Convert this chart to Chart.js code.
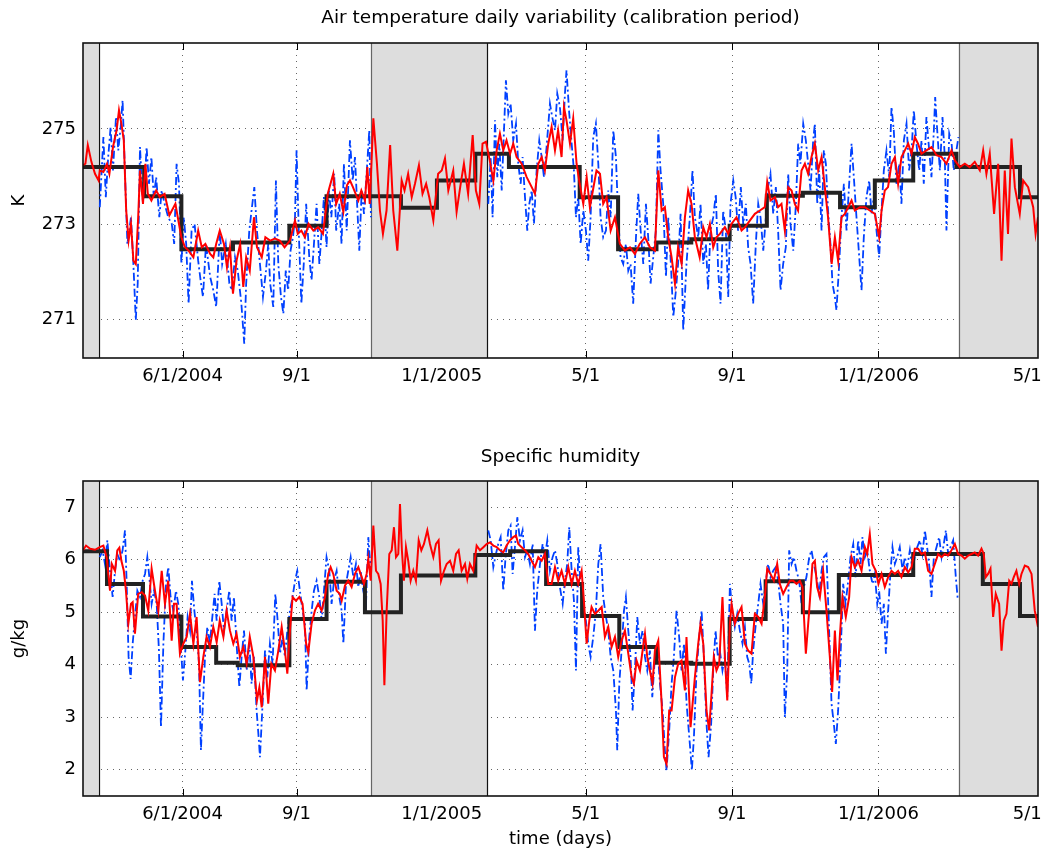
<!DOCTYPE html>
<html>
<head>
<meta charset="utf-8">
<title>Air temperature and specific humidity</title>
<script src="https://cdn.jsdelivr.net/npm/chart.js@4.4.1/dist/chart.umd.min.js"></script>
<style>
    html, body { margin: 0; padding: 0; background: #fff; }
    #wrap { position: relative; width: 1041px; height: 852px; }
    canvas { position: absolute; left: 0; }
    #tempChart { top: 0; }
    #humChart { top: 400px; }
</style>
</head>
<body>
<div id="wrap">
    <canvas id="tempChart" width="1041" height="400"></canvas>
    <canvas id="humChart" width="1041" height="452"></canvas>
</div>
<script>
// X axis (day index) and its labels
const dayMax = 796;
const tickDays = [83, 178, 299, 419, 541, 663, 787];
const tickLabels = ['6/1/2004', '9/1', '1/1/2005', '5/1', '9/1', '1/1/2006', '5/1'];

// Grey periods outside the calibration window (days)
const greyPeriods = [[0, 13], [240, 337], [730, 796]];

// Air temperature (K)
const tempTicks = [271, 273, 275];
const tempMeanStart = [0, 51, 82, 125, 172, 203, 265, 295, 327, 355, 414, 446, 478, 507, 539, 570, 600, 631, 660, 692, 728, 781];
const tempMeanVal = [274.2, 273.59, 272.48, 272.62, 272.97, 273.59, 273.35, 273.92, 274.48, 274.2, 273.57, 272.48, 272.62, 272.69, 272.97, 273.6, 273.66, 273.36, 273.92, 274.48, 274.2, 273.57];

const tempRed = [
    [0,274.24],[2,274.27],[4,274.66],[7,274.31],[10,274.06],[13,273.92],[14,274.13],[17,274.10],[20,274.27],[22,274.06],
    [25,274.62],[28,274.97],[30,275.39],[32,275.11],[34,274.76],[36,273.29],[38,272.66],[40,273.01],[42,272.24],[44,272.17],
    [46,273.15],[47.5,274.13],[50,273.43],[52,274.27],[54,273.64],[57,273.50],[61,273.71],[64,273.57],[68,273.64],[72,273.19],
    [77,273.43],[79,273.15],[82,272.73],[85,272.52],[88,272.45],[92,272.31],[96,272.87],[99,272.52],[102,272.59],[106,272.38],
    [108.6,272.31],[111,272.59],[114,272.87],[117.5,272.59],[120,272.10],[122.5,272.52],[125,271.55],[128,272.24],[131,272.59],[133.6,271.69],
    [136,272.31],[139,272.03],[142.5,273.15],[145,272.52],[149,272.31],[152,272.73],[156,272.66],[160,272.70],[164,272.66],[168,272.52],
    [172.5,272.66],[176.7,273.08],[179,272.80],[182,272.87],[185,272.73],[188,273.01],[192,272.87],[196,272.94],[200,272.80],[204,273.64],
    [208.6,274.06],[211,273.43],[214,273.64],[217,273.26],[220,273.82],[222.5,273.92],[225,273.78],[229.5,273.50],[232,273.71],[235,273.50],
    [237,274.20],[239,273.43],[242,275.22],[245,274.27],[247.5,273.29],[250,272.80],[253,273.29],[256,274.66],[258.6,273.29],[262,272.45],
    [265.6,273.92],[268,273.71],[271,274.06],[274,273.57],[276.7,273.85],[280,274.24],[283,273.64],[286,273.85],[288.6,273.57],[292,273.08],
    [296,274.06],[299,274.13],[301.7,274.38],[304.5,273.71],[308.6,274.13],[311.4,273.26],[314.8,273.85],[317.5,274.27],[321,273.64],[324.8,274.87],
    [327.5,273.71],[330.3,273.43],[333,274.69],[335.9,274.73],[339,274.34],[342,273.92],[344.8,274.55],[347.5,274.90],[350.3,274.55],[353,274.76],
    [356,274.48],[358.6,274.69],[361.4,274.41],[365.6,274.27],[369.8,273.99],[374,273.78],[376.7,273.64],[379.5,274.27],[382.3,274.41],[385,274.13],
    [387.8,274.69],[390.6,275.04],[393.4,274.55],[396,274.97],[398.9,274.41],[400.9,275.46],[403,275.18],[405.9,274.69],[408.6,275.22],[411.4,274.27],
    [414,273.85],[417,273.43],[419.8,273.99],[422.5,273.36],[425,273.71],[428,274.13],[430.9,274.06],[433.6,273.43],[436.4,273.57],[439.8,272.87],
    [443.4,273.15],[447.5,272.59],[451.7,272.45],[455.9,272.52],[460,272.38],[464,272.59],[468.4,272.73],[472.5,272.52],[476.7,272.45],[479.5,274.13],
    [482.3,273.29],[485,273.36],[487.8,272.73],[490.6,272.31],[493.4,271.76],[496,272.52],[499,272.17],[501.7,273.15],[504.4,273.71],[507.2,273.43],
    [510,272.73],[514,272.31],[517,272.94],[519.7,272.73],[522.5,273.01],[525.3,272.52],[528,272.73],[530.8,272.80],[535,272.94],[537.8,272.80],
    [540.5,273.01],[544.7,273.15],[548.9,272.87],[551.7,272.94],[555.8,273.08],[560,273.22],[564.2,273.29],[568.3,273.36],[570.3,273.89],[573,273.50],
    [576.7,273.57],[579.4,273.36],[582.2,273.43],[585,272.87],[587.8,273.78],[590.6,273.71],[593.3,273.43],[596,273.29],[598.9,274.13],[601.7,274.27],
    [604.4,274.06],[607.2,274.41],[610,274.69],[612.8,274.13],[615.6,274.41],[618.3,273.78],[621,273.15],[624,272.17],[626.7,272.73],[629.4,272.24],
    [632.2,273.15],[635,273.22],[637.8,273.36],[640.6,273.50],[643.3,273.29],[647.5,273.36],[651.7,273.36],[655.8,273.29],[660,273.22],[663.6,272.73],
    [665.6,273.29],[668.3,273.71],[671,273.78],[673.9,274.27],[676.7,274.41],[679.4,273.85],[682.2,274.41],[685,274.55],[687.8,274.69],[690.6,274.48],
    [693.3,274.83],[696,274.69],[698.9,274.48],[703,274.55],[707.2,274.62],[711.4,274.45],[715.6,274.41],[719.7,274.27],[723.9,274.55],[726.7,274.34],
    [730.8,274.20],[735,274.27],[739,274.20],[743.3,274.31],[747.5,274.13],[750.3,274.55],[753,274.06],[755.8,274.48],[759.4,273.22],[762.8,274.27],
    [765.6,272.24],[768.3,274.13],[771,272.80],[773.9,274.80],[776.7,273.78],[780.8,273.22],[783.6,273.92],[787.8,273.78],[792,273.36],[794,272.80],
    [796,273.15]
];

const tempBlue = [
    [14,273.36],[17,274.83],[19,273.57],[21,274.41],[23,275.04],[25,274.13],[27.5,275.25],[29.4,274.55],[31.4,275.04],[33,275.60],
    [35,274.06],[37,272.59],[40,273.15],[42,272.17],[44,270.99],[45.6,271.76],[47.5,274.62],[50,273.43],[52,274.13],[53,274.62],
    [55,273.85],[57,274.41],[59,273.57],[61,273.99],[63.6,273.15],[65.6,273.71],[68,273.43],[71,273.15],[74,273.01],[76,272.59],
    [78,274.27],[80,273.85],[82,272.17],[84,273.15],[86,272.59],[88,271.34],[90.5,272.87],[93,273.01],[96,272.24],[98,271.83],
    [100,271.48],[102.5,272.59],[106,271.90],[108.6,271.62],[111,271.27],[114,272.87],[116,272.17],[119,272.59],[122,271.76],[124,271.62],
    [126.7,272.31],[129,272.03],[132,271.34],[134.4,270.50],[136,271.76],[138.6,272.87],[140.5,273.29],[142.8,273.78],[145,272.87],[147.5,272.17],
    [150,271.48],[152.5,272.03],[154.4,272.59],[156,271.76],[158.6,271.27],[160.8,273.92],[162.8,272.17],[165,271.48],[167,271.13],[169,272.03],
    [171,271.62],[173,272.45],[175,272.73],[176.7,273.15],[178,274.55],[180,272.73],[182,271.34],[184,272.17],[186,273.43],[188.6,272.31],
    [190.5,271.83],[192.5,272.59],[194.7,273.43],[197,272.17],[199,272.87],[200.8,273.57],[203,272.52],[205,273.71],[207,273.15],[209.4,274.06],
    [211,272.87],[213.6,273.43],[215.5,272.59],[217.5,274.27],[219.8,272.87],[222.5,274.76],[224.8,273.92],[226.7,274.41],[228.6,273.36],[230.3,272.45],
    [232.3,273.71],[234.2,273.22],[236.4,274.06],[238.6,274.97],[240,273.15],
    [289,null],
    [337.8,273.43],[339.8,274.41],[341.4,273.15],[343.4,275.18],[345.3,273.99],[347,274.69],[349,273.71],[350.9,274.97],[352.5,276.02],[354.5,275.32],
    [356.4,275.53],[358.6,274.76],[360.9,275.11],[362.8,274.27],[364.8,273.85],[366.4,274.41],[368.4,273.57],[370.3,272.87],[372,273.43],[374,273.71],
    [375.9,273.01],[378.1,274.13],[380.3,274.76],[382.3,274.41],[384.2,273.99],[386.4,274.62],[389.2,275.53],[391.1,275.25],[393.4,274.97],[395.3,275.74],
    [397.5,275.46],[399.8,274.76],[401.7,275.74],[403,276.23],[405.3,275.32],[407.3,274.69],[409.2,274.13],[410.9,273.15],[412.8,273.57],[414.8,272.59],
    [417,273.29],[419.2,272.87],[421.1,272.24],[423.1,273.15],[425.3,274.83],[427.5,275.11],[429.5,274.27],[431.4,273.15],[433.6,272.73],[435.9,272.87],
    [437.8,273.71],[439.8,273.15],[442,274.97],[444.2,274.41],[446.1,273.15],[448.1,272.31],[450.3,272.17],[452.5,272.59],[454.5,272.03],[456.4,272.17],
    [458.6,271.34],[460.9,272.73],[462.8,273.64],[464.8,272.87],[467,272.17],[469.2,273.43],[471.1,272.73],[473.1,271.76],[475.3,272.31],[477.5,272.87],
    [479.5,274.97],[481.4,274.13],[483.6,273.43],[485.9,271.90],[487.8,273.15],[490,272.17],[492,271.06],[494.2,271.62],[496,272.17],[498.1,273.22],
    [500.3,270.78],[503,272.17],[505.8,273.15],[508,274.13],[510,273.15],[512.8,272.73],[514.7,273.43],[517,272.17],[519.2,272.59],[521,271.62],
    [523,272.87],[525.3,273.15],[527.5,273.64],[529.4,272.03],[531.4,271.34],[533.6,273.29],[535.8,272.87],[537.8,271.48],[539.7,273.43],[542,273.92],
    [544,273.57],[546,272.87],[548.3,273.78],[550.3,273.01],[552.5,273.43],[554.4,272.52],[556.4,272.17],[558.6,271.34],[560.8,272.59],[562.8,273.43],
    [564.7,273.15],[567,272.45],[569.2,273.15],[571,273.78],[573,274.06],[575.3,273.22],[577.5,273.78],[579.4,272.87],[581.4,271.62],[583.6,272.17],
    [585.8,272.52],[587.8,274.06],[589.7,273.01],[592,272.45],[594.2,273.43],[596.1,274.69],[598,274.27],[600.3,275.11],[602.5,274.76],[604.4,274.27],
    [606.4,273.71],[608.6,274.76],[610,275.11],[612,273.43],[613.6,274.13],[615.6,272.87],[617.5,274.55],[619.2,274.27],[621,273.29],[623,272.59],
    [624.7,271.76],[626.7,271.48],[628,271.20],[630.3,272.17],[632.2,273.15],[634.2,273.85],[636.4,272.87],[638.6,273.85],[640.6,274.69],[642.5,273.99],
    [644.7,273.15],[647,272.31],[648.9,271.62],[650.8,272.73],[653,273.57],[655.3,273.92],[657.2,273.22],[659.2,273.57],[661.4,272.87],[663.6,272.31],
    [665.6,273.29],[667.5,274.13],[669.7,274.55],[672,273.99],[673.9,275.46],[675.8,274.97],[678,273.85],[680.3,274.27],[682.2,273.43],[684.2,274.76],
    [686.4,275.11],[688.6,274.13],[690.6,274.55],[692.5,275.39],[694.7,274.69],[697,274.13],[698.9,274.76],[700.8,273.85],[703,275.25],[705.3,274.55],
    [707.2,273.99],[709.2,274.97],[710.3,275.67],[712,274.97],[714.2,274.13],[716.4,275.25],[718.3,274.41],[719.7,272.87],[722,274.90],[724,274.69],
    [725.8,274.13],[728,274.55],[729.7,274.83]
];

// Specific humidity (g/kg)
const humTicks = [2, 3, 4, 5, 6, 7];
const humMeanStart = [0, 20, 50, 82, 111, 129, 172, 203, 235, 265, 327, 356, 386, 416, 447, 478, 507, 539, 569, 600, 630, 692, 750, 781];
const humMeanVal = [6.16, 5.54, 4.92, 4.34, 4.04, 3.99, 4.87, 5.58, 5.0, 5.70, 6.09, 6.16, 5.54, 4.93, 4.34, 4.04, 4.02, 4.87, 5.59, 5.0, 5.71, 6.11, 5.54, 4.93];

const humRed = [
    [0,6.18],[2.5,6.27],[6,6.21],[10,6.19],[14,6.24],[17,6.27],[19.7,6.05],[22.5,5.41],[24,5.92],[26.7,5.79],
    [28.6,6.18],[30.3,6.23],[32,5.98],[34,5.79],[35.8,5.41],[37.8,4.78],[40,5.16],[41.4,5.19],[43.3,4.59],[46,5.35],
    [49,5.38],[51.7,5.32],[54.4,5.03],[57.2,5.83],[60,5.41],[62.8,5.03],[65.6,5.79],[68.3,5.16],[71,5.60],[73.9,4.46],
    [75.8,5.16],[78,5.16],[80.8,4.21],[83.6,4.40],[86.4,4.53],[89.2,4.97],[92,4.40],[94.7,4.91],[97.5,3.67],[100.3,4.15],
    [103,4.53],[105.8,4.34],[108.6,4.72],[111.4,4.43],[114,4.84],[117,4.53],[119.7,5.03],[122.5,4.65],[125.3,4.40],[128,4.59],
    [130.8,4.15],[133.6,4.34],[136.4,4.02],[139,4.53],[142,4.15],[145,3.32],[147,3.57],[149,3.19],[151.7,4.15],[154.4,3.26],
    [157,4.02],[160,3.89],[162.8,4.27],[165.6,4.72],[168.3,4.27],[170.3,3.83],[172.5,4.65],[174.7,5.29],[177.5,5.22],[180.3,5.29],
    [183,5.16],[186,4.40],[187.8,4.24],[190.5,4.78],[193.3,5.03],[196,5.16],[198.9,5.03],[201.7,5.29],[204.4,5.73],[206.4,5.86],
    [208.6,5.73],[211.4,5.41],[214,5.35],[215.6,5.22],[218.4,5.51],[221.1,5.60],[223.9,5.48],[226.7,5.73],[229.5,5.86],[232.3,5.67],
    [234.2,5.54],[236.4,5.73],[237.8,6.02],[239.8,5.60],[242,6.65],[244.2,5.79],[246.1,5.73],[248.1,5.54],[249.8,4.84],[251.2,3.61],
    [253.1,5.03],[255.3,6.11],[257.3,6.18],[259.2,6.62],[260.9,6.05],[262.8,6.11],[264.2,7.06],[265.8,6.18],[267.5,5.60],[269.2,6.24],
    [271.1,5.98],[273.1,5.60],[275.3,5.79],[277.5,5.60],[279.8,6.37],[282,6.18],[284.2,6.30],[287,6.56],[289.2,6.30],[292,6.05],
    [294.2,6.30],[296.4,6.37],[298.4,5.60],[300.9,5.79],[303.1,5.92],[305.9,5.98],[308.6,5.79],[310.9,6.11],[313.1,6.18],[315.6,5.79],
    [318.4,5.92],[320.3,5.64],[322.5,5.92],[325.3,5.79],[328.1,6.27],[330.9,6.18],[333.7,6.24],[336.4,6.30],[339.2,6.33],[342,6.27],
    [344.8,6.24],[347.5,6.18],[350.3,6.14],[353.1,6.27],[355.9,6.37],[358.6,6.43],[360.9,6.46],[362.8,6.30],[365.6,6.24],[368.4,6.18],
    [371.1,6.11],[373.9,5.98],[376.7,5.86],[379.5,6.05],[382.3,5.98],[385,6.11],[387.8,5.54],[390.6,5.54],[393.4,5.86],[396.1,5.60],
    [398.9,5.79],[401.7,5.54],[404.5,5.86],[407.3,5.54],[410,5.79],[412.8,5.54],[415.6,5.79],[417.5,5.22],[419.8,4.40],[422,4.84],
    [423.9,5.10],[426.7,4.97],[429.5,5.03],[432.3,5.10],[435,4.53],[437.8,4.72],[440.6,4.34],[443.4,4.53],[446.1,4.15],[448.9,4.46],
    [451.7,4.65],[454.5,4.21],[457.3,3.76],[459.2,3.64],[461.4,4.08],[464.2,3.89],[466.4,4.27],[468.4,4.59],[470.3,4.15],[472.5,3.89],
    [474.7,3.64],[476.7,4.27],[479.5,4.46],[482.3,3.26],[484.2,2.24],[486.4,2.11],[488.6,3.13],[490.6,3.13],[493.4,3.76],[496.1,4.02],
    [498.9,4.08],[501.7,3.51],[503,4.53],[506.4,2.81],[510,3.76],[512.8,4.40],[514.7,4.78],[517,4.40],[519.7,3.13],[521.9,2.75],
    [523.9,3.45],[525.8,4.15],[528,3.89],[530.3,4.02],[533,5.29],[535,4.15],[537,3.32],[539.2,4.78],[540.6,5.16],[543.3,4.78],
    [546,4.97],[548.9,5.10],[551.7,4.40],[554.4,4.27],[557.2,4.21],[560,4.97],[562.8,4.91],[565.6,4.78],[568.3,5.29],[570.3,5.83],
    [573,5.73],[575.8,5.60],[578.6,5.92],[580.8,5.54],[583.6,5.35],[586.4,5.48],[589.2,5.60],[592,5.60],[594.7,5.54],[597.5,5.60],
    [599.7,5.48],[602.5,4.21],[605.3,5.03],[608,5.92],[610,5.98],[611.9,5.48],[614.2,5.29],[616.9,5.79],[619.7,5.03],[622.5,4.15],
    [624.4,3.48],[626.7,4.65],[628.9,3.70],[630.8,4.53],[633,5.29],[635.8,4.91],[638.6,5.29],[640.6,6.05],[643.3,5.86],[646.1,5.98],
    [648.9,5.79],[651.7,6.24],[653.6,6.11],[655.8,6.49],[658,5.92],[660.8,5.79],[663,5.54],[665.6,5.73],[668.3,5.48],[671.1,5.67],
    [673.9,5.79],[676.7,5.73],[679.4,5.79],[682.2,5.67],[685,5.86],[687.8,5.76],[690.6,5.86],[693.3,6.21],[696.1,6.21],[698.9,6.11],
    [701.7,6.14],[704.4,5.79],[707.2,5.73],[710,5.92],[712.8,6.11],[715.6,6.05],[718.3,6.11],[721.1,6.08],[723.9,6.18],[726.7,6.30],
    [729.4,6.11],[732.2,6.08],[735,6.02],[737.8,6.08],[740.6,6.11],[743.3,6.14],[746.1,6.08],[748.9,6.21],[750.8,6.11],[752.5,5.67],
    [754.4,5.73],[756.4,5.83],[758.6,4.91],[760.8,5.35],[763.6,5.16],[765.6,4.27],[767.5,4.84],[769.7,4.97],[772,5.60],[773.9,5.54],
    [775.8,5.67],[778,5.79],[780.3,5.54],[782.2,5.73],[785,5.89],[787.8,5.86],[790.6,5.73],[793.3,5.03],[796,4.72]
];

const humBlue = [
    [14,6.05],[16.4,6.18],[18.3,5.92],[20.3,6.37],[22.5,5.79],[24.7,5.29],[26.7,5.79],[28.6,6.11],[30.8,5.98],[33,6.18],
    [35,6.56],[36.4,5.54],[38,4.15],[39.7,3.73],[41.4,4.40],[43.3,4.91],[45.3,5.41],[47.5,5.29],[49.7,5.60],[51.7,5.73],
    [53.6,6.05],[55.3,5.67],[57.2,5.16],[59.2,5.41],[61.4,5.16],[63.3,4.27],[65,2.81],[67,4.40],[69.2,5.54],[71.1,5.86],
    [73,5.29],[75.3,5.03],[77.5,5.41],[79.4,5.16],[81.4,4.40],[83.3,3.70],[85.3,4.27],[87.2,4.91],[89.2,4.65],[90.8,5.60],
    [92.8,5.03],[94.7,4.65],[96.7,4.02],[98.3,2.37],[99.7,3.13],[101.7,4.15],[103.6,4.72],[105.8,4.40],[107.8,4.91],[109.7,5.35],
    [111.4,4.84],[113.6,5.60],[115.6,5.16],[117.5,4.65],[119.7,5.03],[121.9,5.41],[123.9,4.84],[125.8,5.29],[128,4.40],[130.3,3.57],
    [132.2,4.15],[134.2,4.65],[136.4,3.89],[138.6,4.40],[140.5,3.64],[142.5,4.15],[144.7,3.13],[146.4,2.62],[147.5,2.24],[149.7,3.26],
    [151.7,4.27],[153.6,3.76],[155.8,4.40],[158,4.02],[160.3,5.35],[162,4.91],[164.2,4.21],[166.4,4.53],[168.3,4.15],[170.3,4.65],
    [172.5,5.03],[174.7,5.29],[176.7,5.60],[178.6,5.79],[180.8,5.41],[183,5.03],[185,4.78],[186.4,3.51],[188.6,4.53],[190.6,5.03],
    [192.5,5.41],[194.7,5.60],[197,5.29],[199,4.84],[200.8,5.41],[203,6.05],[205.3,5.79],[207.2,5.16],[209.2,5.60],[211.4,5.79],
    [213.6,5.29],[215.6,5.03],[217,4.40],[219.2,5.54],[221.1,5.79],[223.1,6.05],[225.3,5.67],[227.5,5.92],[229.5,5.48],[231.4,5.79],
    [233.6,5.41],[235.9,5.16],[237.8,6.43],[239.8,5.79],
    [289,null],
    [337.8,6.56],[339.8,6.37],[342,5.86],[344.2,6.11],[346.1,6.30],[348.1,6.43],[350.3,5.41],[352.2,6.05],[354.5,6.56],[356.4,6.65],
    [358.1,5.73],[360,6.24],[362,6.81],[364.2,6.37],[366.4,6.56],[368.4,6.05],[370.3,6.18],[372.5,5.92],[374.8,6.30],[376.7,4.65],
    [378.6,5.41],[380.9,5.92],[383.1,6.30],[385,6.05],[387,6.37],[389.2,5.79],[391.4,6.05],[393.4,6.18],[395.3,5.92],[397.5,5.48],
    [399.8,5.16],[401.7,5.60],[403.6,5.92],[405.3,6.62],[407.3,5.79],[409.2,5.22],[410.9,3.89],[412.8,6.24],[414.8,5.48],[417,5.03],
    [419.2,4.84],[421.1,4.40],[423.1,4.15],[425.3,4.53],[427.5,5.03],[429.5,5.92],[431.4,6.30],[433.6,5.29],[435.9,4.91],[437.8,4.65],
    [439.8,4.15],[442,3.89],[444.2,3.13],[445.3,2.37],[447,3.64],[448.9,4.27],[450.9,5.03],[452.5,5.29],[454.5,4.65],[456.4,4.15],
    [458.1,3.13],[460,3.89],[462,4.91],[464.2,4.40],[466.4,4.65],[468.4,4.15],[470.3,3.89],[472.5,4.27],[474.5,3.38],[476.7,4.15],
    [478.6,4.40],[480.9,3.64],[483.1,3.13],[485,2.37],[486.4,1.99],[488.6,2.75],[490.6,3.64],[492.5,4.15],[494.7,5.03],[496.9,4.53],
    [498.9,3.89],[500.9,4.40],[503.1,3.26],[505.8,2.49],[507.5,1.99],[509.2,2.62],[511.4,3.89],[513.6,4.53],[515.6,5.03],[517.5,4.15],
    [519.7,2.88],[521.4,2.24],[523.6,2.88],[525.3,3.89],[527.2,4.65],[529.2,4.15],[530.8,4.27],[533,3.89],[535,4.15],[537,3.38],
    [539.2,5.54],[541.1,5.03],[543.3,4.72],[545.3,4.97],[547.5,4.65],[549.7,4.40],[551.7,4.72],[553.6,4.15],[555.3,4.02],[557,3.64],
    [558.6,4.27],[560.8,4.78],[562.8,5.16],[564.7,5.54],[567,5.16],[569.2,5.60],[571.1,5.92],[573,5.67],[575.3,5.79],[577.5,5.86],
    [579.4,5.60],[581.4,5.16],[583.6,4.78],[585,3.00],[587,3.89],[588.6,6.18],[590.6,5.92],[592.5,6.05],[594.7,5.79],[596.9,5.60],
    [598.9,5.16],[600.8,5.48],[603,5.67],[605.3,6.05],[607.2,6.18],[609.2,5.92],[611.4,5.67],[613.6,5.35],[615.6,5.79],[617.5,6.05],
    [619.7,6.11],[621.9,4.65],[623.9,3.26],[625.8,2.88],[627.5,2.49],[629.4,3.13],[631.4,4.15],[633.6,5.54],[635.6,5.16],[637.8,5.60],
    [639.7,6.05],[642,6.30],[643.9,5.67],[646.1,6.37],[648.1,5.92],[649.7,6.43],[651.7,6.05],[653.6,6.18],[655.8,5.79],[658.1,5.54],
    [660,5.73],[662,5.16],[663.6,5.41],[665.6,4.78],[667.5,5.16],[669.2,4.21],[671.1,5.03],[673.1,5.79],[674.7,6.24],[676.7,5.92],
    [678.6,6.05],[680.8,6.24],[683.1,5.79],[685,6.05],[687,5.86],[689.2,6.18],[691.4,5.79],[693.3,6.05],[695.3,6.24],[697.5,6.37],
    [699.7,6.11],[701.7,6.56],[703.6,6.24],[705.8,5.79],[707.2,5.29],[709.2,6.05],[711.4,6.24],[713.6,6.43],[715.6,6.05],[717.5,6.30],
    [719.2,6.56],[721.1,6.11],[723.1,6.24],[725.3,6.37],[727.5,5.67],[729.2,5.22]
];

// Styling
const fontFamily = "'DejaVu Sans', Verdana, sans-serif";
const fontSize = 18;
Chart.defaults.font.family = fontFamily;
Chart.defaults.font.size = fontSize;
Chart.defaults.color = '#000';

// Pairs -> {x, y}
function toPoints(pairs) {
    return pairs.map(p => ({ x: p[0], y: p[1] }));
}

// Monthly mean as a step line
function stepPoints(starts, vals) {
    const pts = starts.map((d, i) => ({ x: d, y: vals[i] }));
    pts.push({ x: dayMax, y: vals[vals.length - 1] });
    return pts;
}

// Panel title centred over the plot area
const panelTitle = {
    id: 'panelTitle',
    afterDraw(chart, args, opts) {
        const { ctx, chartArea } = chart;
        ctx.save();
        ctx.font = '18.5px ' + fontFamily;
        ctx.fillStyle = '#000';
        ctx.textAlign = 'center';
        ctx.textBaseline = 'middle';
        ctx.fillText(opts.text, (chartArea.left + chartArea.right) / 2, opts.y);
        ctx.restore();
    }
};

// Inward ticks, grey periods and the axes box
const matlabFrame = {
    id: 'matlabFrame',
    beforeDatasetsDraw(chart) {
        const { ctx, chartArea: a, scales: { x, y } } = chart;
        ctx.save();
        ctx.strokeStyle = '#000';
        ctx.lineWidth = 1;
        ctx.beginPath();
        x.ticks.forEach(t => {
            const px = Math.round(x.getPixelForValue(t.value)) + 0.5;
            ctx.moveTo(px, a.bottom); ctx.lineTo(px, a.bottom - 7);
            ctx.moveTo(px, a.top); ctx.lineTo(px, a.top + 7);
        });
        y.ticks.forEach(t => {
            const py = Math.round(y.getPixelForValue(t.value)) + 0.5;
            ctx.moveTo(a.left, py); ctx.lineTo(a.left + 7, py);
            ctx.moveTo(a.right, py); ctx.lineTo(a.right - 7, py);
        });
        ctx.stroke();

        // grey periods
        ctx.fillStyle = '#dddddd';
        greyPeriods.forEach(([d0, d1]) => {
            const x0 = x.getPixelForValue(d0);
            const x1 = x.getPixelForValue(d1);
            ctx.fillRect(x0, a.top, x1 - x0, a.bottom - a.top);
        });
        ctx.lineWidth = 1.2;
        greyPeriods.forEach(([d0, d1]) => {
            [[d0, '#666'], [d1, '#111']].forEach(([d, col]) => {
                if (d <= 0 || d >= dayMax) return;
                const px = Math.round(x.getPixelForValue(d)) + 0.5;
                ctx.strokeStyle = col;
                ctx.beginPath();
                ctx.moveTo(px, a.top);
                ctx.lineTo(px, a.bottom);
                ctx.stroke();
            });
        });
        ctx.restore();
    },
    afterDatasetsDraw(chart) {
        const { ctx, chartArea: a } = chart;
        ctx.save();
        ctx.strokeStyle = '#111';
        ctx.lineWidth = 1.6;
        ctx.strokeRect(a.left, a.top, a.right - a.left, a.bottom - a.top);
        ctx.restore();
    }
};

// Build one panel
function buildPanel(canvasId, p) {
    const ctx = document.getElementById(canvasId).getContext('2d');
    return new Chart(ctx, {
        type: 'line',
        data: {
            datasets: [{
                label: 'red',
                data: toPoints(p.red),
                borderColor: '#ff0000',
                borderWidth: 2,
                pointRadius: 0,
                tension: 0
            }, {
                label: 'monthly mean',
                data: stepPoints(p.meanStart, p.meanVal),
                borderColor: '#222222',
                borderWidth: 4,
                pointRadius: 0,
                stepped: 'before'
            }, {
                label: 'blue',
                data: toPoints(p.blue),
                borderColor: '#0040ff',
                borderWidth: 1.8,
                borderDash: [8, 3, 2, 3],
                pointRadius: 0,
                tension: 0,
                spanGaps: false
            }]
        },
        options: {
            responsive: false,
            animation: false,
            devicePixelRatio: 1,
            layout: { padding: { top: p.padTop, right: 3, left: 0, bottom: 0 } },
            plugins: {
                legend: { display: false },
                tooltip: { enabled: false },
                panelTitle: { text: p.title, y: p.titleY }
            },
            scales: {
                x: {
                    type: 'linear',
                    min: 0,
                    max: dayMax,
                    afterBuildTicks: s => { s.ticks = tickDays.map(v => ({ value: v })); },
                    afterFit: s => {
                        s.height = p.xHeight;
                        s.paddingLeft = 0;
                        s.paddingRight = 0;
                    },
                    ticks: {
                        autoSkip: false,
                        maxRotation: 0,
                        padding: 8,
                        callback: (v, i) => tickLabels[i]
                    },
                    grid: { drawTicks: false, color: 'rgba(0,0,0,0.6)', lineWidth: 1 },
                    border: { display: false, dash: [1, 5] },
                    title: {
                        display: !!p.xTitle,
                        text: p.xTitle || '',
                        padding: { top: 0, bottom: 2 }
                    }
                },
                y: {
                    type: 'linear',
                    min: p.yMin,
                    max: p.yMax,
                    afterBuildTicks: s => { s.ticks = p.yTicks.map(v => ({ value: v })); },
                    afterFit: s => { s.width = 83; },
                    ticks: { padding: 7, callback: v => String(v) },
                    grid: { drawTicks: false, color: 'rgba(0,0,0,0.6)', lineWidth: 1 },
                    border: { display: false, dash: [1, 5] },
                    title: { display: true, text: p.yTitle, padding: { top: 9, bottom: 0 } }
                }
            }
        },
        plugins: [matlabFrame, panelTitle]
    });
}

buildPanel('tempChart', {
    title: 'Air temperature daily variability (calibration period)',
    titleY: 18,
    padTop: 43,
    xHeight: 42,
    yMin: 270.2,
    yMax: 276.8,
    yTicks: tempTicks,
    yTitle: 'K',
    red: tempRed,
    blue: tempBlue,
    meanStart: tempMeanStart,
    meanVal: tempMeanVal
});

buildPanel('humChart', {
    title: 'Specific humidity',
    titleY: 57,
    padTop: 81,
    xHeight: 56,
    xTitle: 'time (days)',
    yMin: 1.5,
    yMax: 7.5,
    yTicks: humTicks,
    yTitle: 'g/kg',
    red: humRed,
    blue: humBlue,
    meanStart: humMeanStart,
    meanVal: humMeanVal
});
</script>
</body>
</html>
